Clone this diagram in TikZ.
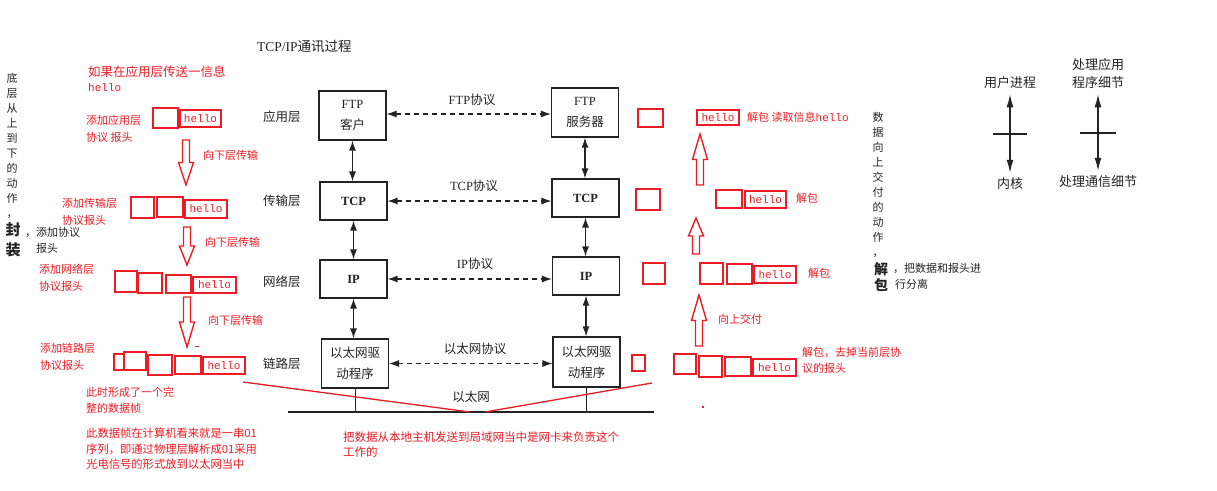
\documentclass[tikz,border=0pt]{standalone}
\usepackage{fontspec}
\setmainfont{Liberation Serif}
\newfontfamily\cjk{Noto Sans CJK SC}
\newfontfamily\hmono{Liberation Mono}
\usetikzlibrary{arrows.meta}
\definecolor{pr}{RGB}{237,28,36}
\definecolor{ink}{RGB}{35,35,35}
\newcommand\hollowarr[3]{%
  \draw[hollow] ({#1-3.5},#2) -- ({#1+3.5},#2) -- ({#1+3.5},{#3+0.5*(#2-#3)}) -- ({#1+7.5},{#3+0.5*(#2-#3)}) -- (#1,#3) -- ({#1-7.5},{#3+0.5*(#2-#3)}) -- ({#1-3.5},{#3+0.5*(#2-#3)}) -- cycle;}
\newcommand\hellobox[5]{%
  \node[hbox, minimum width={#4-#2}, minimum height={#5-#3}] (#1) at ({(#2+#4)/2},{(#3+#5)/2}) {hello};}
\begin{document}
\begin{tikzpicture}[x=1pt,y=-1pt,
  lay/.style={font=\cjk\fontsize{12.5}{14}\selectfont, text=ink, inner sep=0, anchor=west},
  plab/.style={font=\fontsize{12.5}{14}\selectfont, text=ink, inner sep=0},
  pbox/.style={draw=ink, line width=1.1pt, minimum width=67, align=center, inner sep=0, text=ink, font=\fontsize{12.5}{21}\selectfont},
  rtxt/.style={text=pr, font=\cjk\fontsize{11}{17}\selectfont, inner sep=0, anchor=west, align=left},
  hbox/.style={draw=pr, line width=1.6pt, inner sep=0, font=\hmono\fontsize{11}{12}\selectfont, text=pr},
  rb/.style={draw=pr, line width=1.6pt},
  hollow/.style={draw=pr, line width=1.4pt, line join=miter},
  rline/.style={draw=pr, line width=1.3pt},
  tip/.tip={Latex[length=10pt,width=7pt]},
  dashar/.style={dash pattern=on 5pt off 4pt, line width=1.2pt, draw=ink, tip-tip},
  vdar/.style={line width=1.3pt, draw=ink, tip-tip},
  kdar/.style={line width=1.3pt, draw=ink, {Latex[length=13pt,width=7pt]}-{Latex[length=13pt,width=7pt]}, shorten <=5pt, shorten >=5pt},
  btxt/.style={text=ink, font=\cjk\fontsize{11}{15}\selectfont, inner sep=0, align=center},
  bbig/.style={text=ink, font=\cjk\bfseries\fontsize{15}{20}\selectfont, inner sep=0, align=center},
  bsmall/.style={text=ink, font=\cjk\fontsize{11}{16}\selectfont, inner sep=0, anchor=west, align=left},
  ktxt/.style={text=ink, font=\cjk\fontsize{13}{18}\selectfont, inner sep=0, align=center}
]
\useasboundingbox[fill=white] (0,0) rectangle (1217,490);

% ---------- title ----------
\node[plab, anchor=west] (title) at (257,46) {\fontsize{13.5}{15}\selectfont TCP/IP{\cjk 通讯过程}};

% ---------- left vertical text ----------
\node[btxt] (lv) at (12,146) {底\\层\\从\\上\\到\\下\\的\\动\\作\\，};
\node[bbig] (feng) at (13,240) {封\\装};
\node[bsmall] (fengt) at (25,240) {，添加协议\\\phantom{，}报头};

% ---------- right vertical text ----------
\node[btxt] (rv) at (878,185) {数\\据\\向\\上\\交\\付\\的\\动\\作\\，};
\node[bbig, font=\cjk\bfseries\fontsize{14}{16}\selectfont] (jie) at (881,277) {解\\包};
\node[bsmall] (jiet) at (893,276.5) {，把数据和报头进\\\hspace{2pt}行分离};

% ---------- layer labels ----------
\node[lay] (l1) at (263,117) {应用层};
\node[lay] (l2) at (263,201) {传输层};
\node[lay] (l3) at (263,282) {网络层};
\node[lay] (l4) at (263,364) {链路层};

% ---------- protocol boxes ----------
\node[pbox, minimum height=49] (ftpL) at (352.5,115.5) {FTP\\{\cjk 客户}};
\node[pbox, minimum height=38] (tcpL) at (353.5,201) {\bfseries TCP};
\node[pbox, minimum height=38] (ipL) at (353.5,279) {\bfseries IP};
\node[pbox, minimum height=49] (ethL) at (355,363.5) {\cjk 以太网驱\\\cjk 动程序};
\node[pbox, minimum height=49] (ftpR) at (585,112.5) {FTP\\{\cjk 服务器}};
\node[pbox, minimum height=38] (tcpR) at (585.5,198) {\bfseries TCP};
\node[pbox, minimum height=38] (ipR) at (586,276) {\bfseries IP};
\node[pbox, minimum height=50] (ethR) at (586.5,362) {\cjk 以太网驱\\\cjk 动程序};

% vertical arrows
\draw[vdar] (ftpL.south) -- (ftpL.south |- tcpL.north);
\draw[vdar] (tcpL.south) -- (ipL.north);
\draw[vdar] (ipL.south) -- (ipL.south |- ethL.north);
\draw[vdar] (ftpR.south) -- (ftpR.south |- tcpR.north);
\draw[vdar] (tcpR.south) -- (tcpR.south |- ipR.north);
\draw[vdar] (ipR.south) -- (ipR.south |- ethR.north);

% horizontal dashed arrows
\coordinate (fa) at ([yshift=1.5pt]ftpL.east);
\draw[dashar] (fa) -- (fa -| ftpR.west);
\draw[dashar] (tcpL.east) -- (tcpL.east -| tcpR.west);
\draw[dashar] (ipL.east) -- (ipL.east -| ipR.west);
\draw[dashar] (ethL.east) -- (ethL.east -| ethR.west);

\node[plab] (pftp) at (472,100) {FTP{\cjk 协议}};
\node[plab] (ptcp) at (474,186) {TCP{\cjk 协议}};
\node[plab] (pip) at (475,264) {IP{\cjk 协议}};
\node[plab] (peth) at (475,349) {\cjk 以太网协议};
\node[plab] (pnet) at (471,397) {\cjk 以太网};

% ethernet bus
\coordinate (ethA) at (288,412);
\coordinate (ethB) at (654,412);
\draw[line width=2.8pt, draw=ink] (ethA) -- (ethB);
\draw[line width=1pt, draw=ink] (ethL.south) -- (ethL.south |- ethA);
\draw[line width=1pt, draw=ink] (ethR.south) -- (ethR.south |- ethA);

% red V lines
\coordinate (v1) at (243,382);
\coordinate (v2) at (470,412);
\coordinate (v3) at (485,412);
\coordinate (v4) at (652,383);
\draw[rline] (v1) -- (v2);
\draw[rline] (v3) -- (v4);

% ---------- left red: encapsulation ----------
\node[rtxt, font=\cjk\fontsize{12.5}{16}\selectfont] (t1) at (88,72) {如果在应用层传送一信息};
\node[rtxt, font=\hmono\fontsize{11}{12}\selectfont] (t1b) at (88,88) {hello};

\node[rtxt] (t2) at (86,128.5) {添加应用层\\协议 报头};
\draw[rb] (153,108) rectangle (178,128);
\hellobox{hA}{180}{110}{221}{127}
\hollowarr{186}{140}{185}
\node[rtxt] (d1) at (203,155) {向下层传输};

\node[rtxt] (t3) at (62,211.5) {添加传输层\\协议报头};
\draw[rb] (131,197) rectangle (154,218);
\draw[rb] (157,197) rectangle (183,217);
\hellobox{hB}{185}{200}{227}{218}
\hollowarr{187}{227}{265}
\node[rtxt] (d2) at (205,242) {向下层传输};

\node[rtxt] (t4) at (39,278) {添加网络层\\协议报头};
\draw[rb] (115,271) rectangle (137,292);
\draw[rb] (138,273) rectangle (162,293);
\draw[rb] (166,275) rectangle (191,293);
\hellobox{hC}{193}{277}{236}{293}
\hollowarr{187}{297}{347}
\node[rtxt] (d3) at (208,320) {向下层传输};
\fill[pr] (195,345.5) rectangle (199,346.5);

\node[rtxt] (t5) at (40,357) {添加链路层\\协议报头};
\draw[rb] (114,354) rectangle (124,370);
\draw[rb] (124,352) rectangle (146,370);
\draw[rb] (148,355) rectangle (172,375);
\draw[rb] (175,356) rectangle (201,374);
\hellobox{hD}{203}{357}{245}{374}

\node[rtxt, font=\cjk\fontsize{11}{16}\selectfont] (t6) at (86,400) {此时形成了一个完\\整的数据帧};
\node[rtxt, font=\cjk\fontsize{11.3}{15.5}\selectfont] (t7) at (86,449) {此数据帧在计算机看来就是一串01\\序列，即通过物理层解析成01采用\\光电信号的形式放到以太网当中};
\node[rtxt, font=\cjk\fontsize{11.5}{15.5}\selectfont] (t8) at (343,444.5) {把数据从本地主机发送到局域网当中是网卡来负责这个\\工作的};

% ---------- right red: decapsulation ----------
\draw[rb] (638,109) rectangle (663,127);
\hellobox{hR1}{697}{110}{739}{125}
\node[rtxt] (u1) at (747,117) {解包 读取信息{\hmono hello}};
\hollowarr{700}{185}{134}

\draw[rb] (636,189) rectangle (660,210);
\draw[rb] (716,190) rectangle (742,208);
\hellobox{hR2}{745}{191}{786}{208}
\node[rtxt] (u2) at (796,198) {解包};
\hollowarr{696}{254}{218}

\draw[rb] (643,263) rectangle (665,284);
\draw[rb] (700,263) rectangle (723,284);
\draw[rb] (727,264) rectangle (752,284);
\hellobox{hR3}{754}{266}{796}{283}
\node[rtxt] (u3) at (808,273) {解包};
\hollowarr{699}{346}{295}
\node[rtxt] (u4) at (718,319) {向上交付};

\draw[rb] (632,355) rectangle (645,371);
\draw[rb] (674,354) rectangle (696,374);
\draw[rb] (699,356) rectangle (722,377);
\draw[rb] (725,357) rectangle (751,376);
\hellobox{hR4}{753}{359}{796}{376}
\node[rtxt, font=\cjk\fontsize{11}{15.5}\selectfont] (u5) at (802,360.5) {解包，去掉当前层协\\议的报头};
\fill[pr] (702,406) rectangle (704,408);

% ---------- right black: user/kernel ----------
\node[ktxt] (user) at (1010,83) {用户进程};
\node[ktxt] (kern) at (1010,184) {内核};
\draw[kdar] (user.south) -- (kern.north);
\coordinate (kh1) at (993,134);
\coordinate (kh2) at (1027,134);
\draw[line width=1.5pt, draw=ink] (kh1) -- (kh2);

\node[ktxt] (app) at (1098,74) {处理应用\\程序细节};
\node[ktxt] (comm) at (1098,182) {处理通信细节};
\draw[kdar] (app.south) -- (comm.north);
\coordinate (ph1) at (1080,133);
\coordinate (ph2) at (1116,133);
\draw[line width=1.5pt, draw=ink] (ph1) -- (ph2);
\end{tikzpicture}
\end{document}
